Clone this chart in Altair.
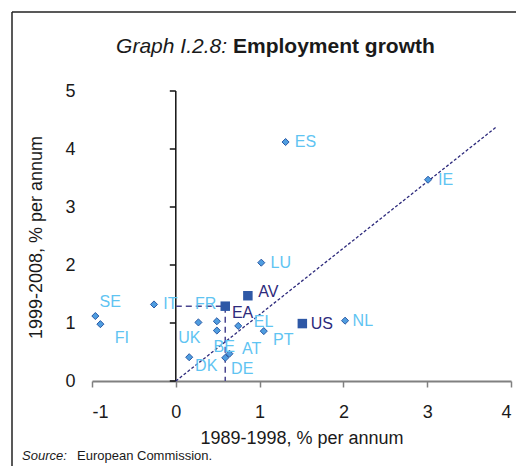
import altair as alt
import pandas as pd

# ---- data ----
countries = ["ES", "IE", "LU", "NL", "FR", "UK", "BE", "EL", "PT", "AT", "DE", "DK", "IT", "SE", "FI"]
growth_8998 = [1.31, 3.01, 1.02, 2.02, 0.49, 0.27, 0.49, 0.745, 1.05, 0.64, 0.59, 0.16, -0.26, -0.96, -0.90]
growth_9908 = [4.12, 3.47, 2.04, 1.04, 1.03, 1.01, 0.87, 0.95, 0.86, 0.47, 0.40, 0.41, 1.32, 1.12, 0.98]
# label anchors (data units)
label_x = [1.42, 3.13, 1.13, 2.11, 0.23, 0.03, 0.45, 0.93, 1.16, 0.79, 0.66, 0.23, -0.15, -0.91, -0.73]
label_y = [4.12, 3.47, 2.04, 1.04, 1.33, 0.75, 0.59, 1.02, 0.71, 0.56, 0.20, 0.26, 1.33, 1.37, 0.74]

aggregates = ["AV", "EA", "US"]
agg_8998 = [0.86, 0.59, 1.51]
agg_9908 = [1.47, 1.29, 0.99]
agg_label_x = [0.985, 0.67, 1.61]
agg_label_y = [1.54, 1.18, 0.99]

trend_x = [0.0, 3.83]
trend_y = [0.0, 4.385]

x_ticks = [-1, 0, 1, 2, 3, 4]
y_ticks = [0, 1, 2, 3, 4, 5]

FONT = "Liberation Sans"
LIGHT = "#5fc4f2"
DARK = "#2d2a7c"
TXT = "#1a1a1a"

# ---- tables ----
pts = pd.DataFrame({"x": growth_8998, "y": growth_9908, "name": countries})
pts_lab = pd.DataFrame({"x": label_x, "y": label_y, "name": countries})
agg = pd.DataFrame({"x": agg_8998, "y": agg_9908, "name": aggregates})
agg_lab = pd.DataFrame({"x": agg_label_x, "y": agg_label_y, "name": aggregates})
trend = pd.DataFrame({"x": trend_x, "y": trend_y})
ea_i = aggregates.index("EA")
ea_guide = pd.DataFrame({"x": [0.0, agg_8998[ea_i], agg_8998[ea_i]],
                         "y": [agg_9908[ea_i], agg_9908[ea_i], 0.0],
                         "o": [0, 1, 2]})
yaxis_line = pd.DataFrame({"x": [0.0], "y": [min(y_ticks)], "y2": [max(y_ticks)]})
yaxis_ticks = pd.DataFrame({"x": [0.0] * len(y_ticks), "y": y_ticks})
one = pd.DataFrame({"a": [0]})

xs = alt.Scale(domain=[-1, 4], nice=False, zero=False)
ys = alt.Scale(domain=[0, 5], nice=False, zero=False)

X = alt.X("x:Q", scale=xs, axis=alt.Axis(
    title="1989-1998, % per annum", values=x_ticks, labelExpr="'' + datum.value",
    grid=False, domainColor="#808080", domainWidth=2, tickColor="#808080",
    tickSize=6, tickWidth=1.5, labelPadding=16, labelFontSize=18, labelFont=FONT,
    labelColor=TXT, titleFont=FONT, titleFontSize=18, titleFontWeight="normal",
    titleColor=TXT, titleY=62, titleBaseline="alphabetic"))

# y axis: labels and title at the left edge of the plot
Y = alt.Y("y:Q", scale=ys, axis=alt.Axis(
    orient="left", title="1999-2008, % per annum", values=y_ticks, grid=False,
    domain=False, ticks=False, labelPadding=17, labelFontSize=18, labelFont=FONT,
    labelColor=TXT, titleFont=FONT, titleFontSize=18, titleFontWeight="normal",
    titleColor=TXT, titleX=-56, titleY=146, titleAlign="center",
    titleBaseline="middle"))

# vertical axis line crossing at x = 0, with ticks pointing left
vline = alt.Chart(yaxis_line).mark_rule(color="#111111", strokeWidth=1.5).encode(
    x=X, y=Y, y2="y2:Q")
vticks = alt.Chart(yaxis_ticks).mark_rule(color="#111111", strokeWidth=1.5, x2Offset=-6).encode(
    x=X, x2="x:Q", y=Y)

trend_line = alt.Chart(trend).mark_line(color=DARK, strokeWidth=1.3, strokeDash=[3, 2]).encode(
    x=X, y=Y)
guide = alt.Chart(ea_guide).mark_line(color="#4a4690", strokeWidth=1.5, strokeDash=[6, 4]).encode(
    x=X, y=Y, order="o:Q")
points = alt.Chart(pts).mark_point(shape="diamond", filled=True, size=50, fill="#4f9de0",
                                   stroke="#2a5aa5", strokeWidth=1, opacity=1).encode(x=X, y=Y)
labels = alt.Chart(pts_lab).mark_text(align="left", baseline="middle", font=FONT,
                                      fontSize=16, color=LIGHT).encode(x=X, y=Y, text="name:N")
squares = alt.Chart(agg).mark_point(shape="square", filled=True, size=90, color="#2e58a6",
                                    opacity=1).encode(x=X, y=Y)
agg_labels = alt.Chart(agg_lab).mark_text(align="left", baseline="middle", font=FONT,
                                          fontSize=16, color=DARK).encode(x=X, y=Y, text="name:N")

# decorations (frame, title, source) placed in pixels
frame_left = alt.Chart(one).mark_rule(color="#222222", strokeWidth=1.5).encode(
    x=alt.value(-80), y=alt.value(-79), y2=alt.value(420))
frame_top = alt.Chart(one).mark_rule(color="#222222", strokeWidth=1.5).encode(
    x=alt.value(-80), x2=alt.value(460), y=alt.value(-79))
title_a = alt.Chart(one).mark_text(align="right", baseline="alphabetic", font=FONT, fontSize=21,
                                   fontStyle="italic", color=TXT).encode(
    x=alt.value(135), y=alt.value(-38), text=alt.value("Graph I.2.8:"))
title_b = alt.Chart(one).mark_text(align="left", baseline="alphabetic", font=FONT, fontSize=21,
                                   fontWeight="bold", color=TXT).encode(
    x=alt.value(141), y=alt.value(-38), text=alt.value("Employment growth"))
src_a = alt.Chart(one).mark_text(align="left", baseline="alphabetic", font=FONT, fontSize=13,
                                 fontStyle="italic", color=TXT).encode(
    x=alt.value(-70), y=alt.value(369), text=alt.value("Source:"))
src_b = alt.Chart(one).mark_text(align="left", baseline="alphabetic", font=FONT, fontSize=13,
                                 color=TXT).encode(
    x=alt.value(-15), y=alt.value(369), text=alt.value("European Commission."))

chart = alt.layer(
    vline, vticks, trend_line, guide, points, labels, squares, agg_labels,
    frame_left, frame_top, title_a, title_b, src_a, src_b
).properties(
    width=419, height=290,
    autosize=alt.AutoSizeParams(type="none"),
    padding={"left": 84, "top": 83, "right": 5, "bottom": 85},
    background="white",
).configure_view(stroke=None)

chart.save("out.html", embed_options={"renderer": "svg", "actions": False})
